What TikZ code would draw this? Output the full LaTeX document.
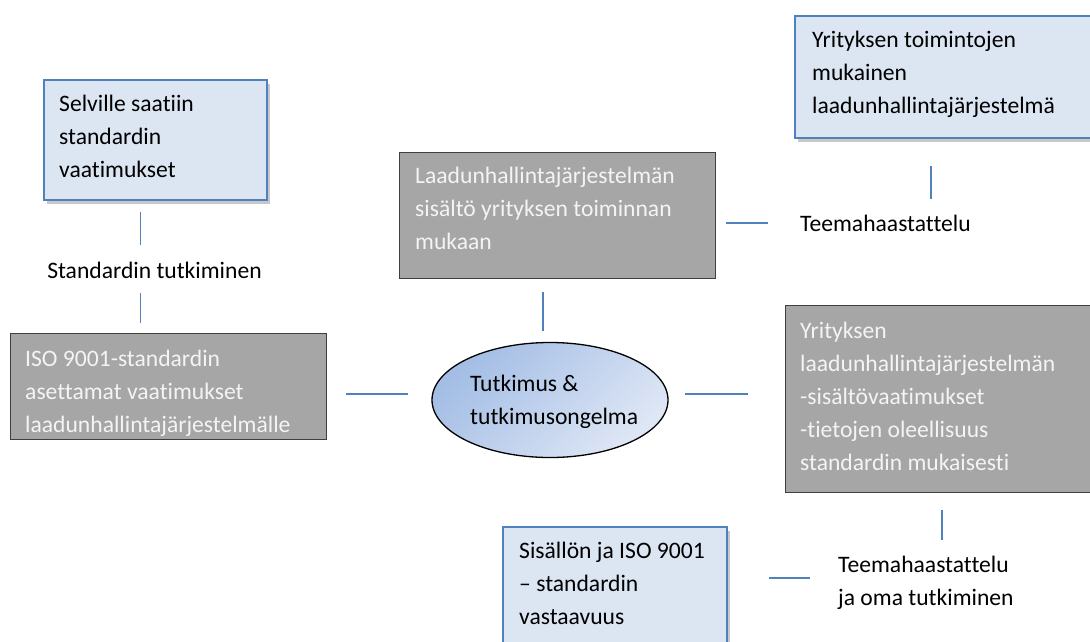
\documentclass[tikz,border=0pt]{standalone}
\usepackage{fontspec}
\setmainfont{Carlito}[Ligatures=NoCommon]
\usetikzlibrary{shapes.geometric,shadows}
\definecolor{boxfill}{HTML}{DCE6F2}
\definecolor{boxline}{HTML}{4F81BD}
\definecolor{grayfill}{HTML}{A6A6A6}
\definecolor{grayline}{HTML}{3F3F3F}
\definecolor{graytext}{HTML}{F4F4F4}
\definecolor{ovalA}{HTML}{A3BDE5}
\definecolor{ovalB}{HTML}{DFE7F5}
\definecolor{linkblue}{HTML}{4F81BD}

\begin{document}
\begin{tikzpicture}[x=1pt,y=-1pt,
  lightbox/.style={draw=boxline, line width=1.8pt, fill=boxfill, inner sep=0pt,
    anchor=north west,
    drop shadow={shadow xshift=3pt, shadow yshift=-4pt, opacity=0.3, fill=black!70}},
  darkbox/.style={draw=grayline, line width=1.2pt, fill=grayfill, inner sep=0pt,
    anchor=north west},
  txt/.style={align=left, inner sep=0pt, anchor=north west,
    font=\fontsize{23.6}{33}\selectfont},
  lighttxt/.style={txt, text=graytext},
  link/.style={draw=linkblue, line width=1.8pt}]

\useasboundingbox (0,0) rectangle (1090,641);
\clip (0,0) rectangle (1090,641);
\fill[white] (0,0) rectangle (1090,641);

% Boxes
\node[lightbox, minimum width=223pt, minimum height=120pt] (req) at (43,79) {};
\node[txt] (reqT) at ([shift={(16,16)}]req.north west)
  {Selville saatiin\\standardin\\vaatimukset};

\node[lightbox, minimum width=320pt, minimum height=122pt] (qms) at (794,15) {};
\node[txt] (qmsT) at ([shift={(18,16)}]qms.north west)
  {Yrityksen toimintojen\\mukainen\\laadunhallintajärjestelmä};

\node[darkbox, minimum width=316pt, minimum height=126pt] (cont) at (399,152) {};
\node[lighttxt] (contT) at ([shift={(16,15)}]cont.north west)
  {Laadunhallintajärjestelmän\\sisältö yrityksen toiminnan\\mukaan};

\node[darkbox, minimum width=316pt, minimum height=106pt] (iso) at (10,333) {};
\node[lighttxt] (isoT) at ([shift={(15,17)}]iso.north west)
  {ISO 9001-standardin\\asettamat vaatimukset\\laadunhallintajärjestelmälle};

\node[darkbox, minimum width=330pt, minimum height=187pt] (spec) at (785,305) {};
\node[lighttxt] (specT) at ([shift={(15,17)}]spec.north west)
  {Yrityksen\\laadunhallintajärjestelmän\\-sisältövaatimukset\\-tietojen oleellisuus\\standardin mukaisesti};

\node[lightbox, minimum width=224pt, minimum height=140pt] (match) at (502,526) {};
\node[txt] (matchT) at ([shift={(17,16)}]match.north west)
  {Sisällön ja ISO 9001\\– standardin\\vastaavuus};

% Central ellipse
\node[ellipse, draw=black, line width=1.3pt, minimum width=236pt, minimum height=115pt,
  top color=ovalA, bottom color=ovalB, shading angle=45] (core) at (550,400) {};
\node[txt] (coreT) at ([shift={(-80,-25)}]core.center)
  {Tutkimus \&\\tutkimusongelma};

% Labels
\node[txt, anchor=center] (lblStd) at (154.5,270) {Standardin tutkiminen};
\node[txt, anchor=west] (lblInt) at (800,223) {Teemahaastattelu};
\node[txt] (lblOwn) at (838,556) {Teemahaastattelu\\ja oma tutkiminen};

% Connector end points
\coordinate (c1a) at (140.5,212); \coordinate (c1b) at (140.5,245);
\coordinate (c2a) at (140.5,293); \coordinate (c2b) at (140.5,323);
\coordinate (c3a) at (543,292);   \coordinate (c3b) at (543,331);
\coordinate (c4a) at (726,223);   \coordinate (c4b) at (768,223);
\coordinate (c5a) at (931,166);   \coordinate (c5b) at (931,199);
\coordinate (c6a) at (346,394);   \coordinate (c6b) at (408,394);
\coordinate (c7a) at (685,394);   \coordinate (c7b) at (748,394);
\coordinate (c8a) at (942,510);   \coordinate (c8b) at (942,540);
\coordinate (c9a) at (769,578);   \coordinate (c9b) at (810,578);

\foreach \n in {1,...,9} {
  \draw[link] (c\n a) -- (c\n b);
}
\end{tikzpicture}
\end{document}
